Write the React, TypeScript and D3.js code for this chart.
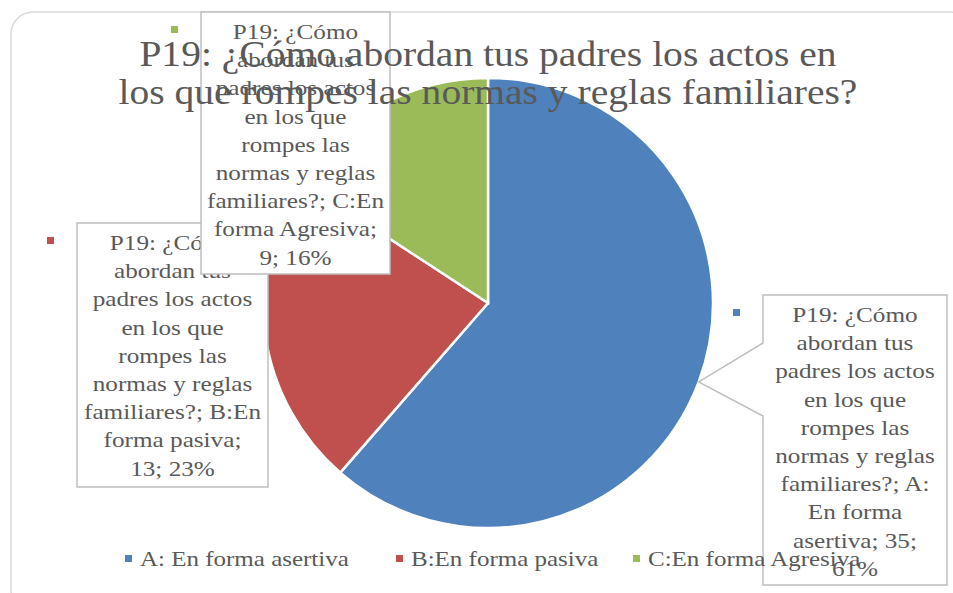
import React, { useEffect, useRef } from 'react';
import * as d3 from 'd3';

const categories = ['A: En forma asertiva', 'B:En forma pasiva', 'C:En forma Agresiva'];
const values = [35, 13, 9];
const colors = ['#4f81bd', '#c0504d', '#9bbb59'];
const titleLines = ['P19: ¿Cómo abordan tus padres los actos en', 'los que rompes las normas y reglas familiares?'];
const labelLines = [
  ['P19: ¿Cómo', 'abordan tus', 'padres los actos', 'en los que', 'rompes las', 'normas y reglas', 'familiares?; A:', 'En forma', 'asertiva; 35;', '61%'],
  ['P19: ¿Cómo', 'abordan tus', 'padres los actos', 'en los que', 'rompes las', 'normas y reglas', 'familiares?; B:En', 'forma pasiva;', '13; 23%'],
  ['P19: ¿Cómo', 'abordan tus', 'padres los actos', 'en los que', 'rompes las', 'normas y reglas', 'familiares?; C:En', 'forma Agresiva;', '9; 16%'],
];

const W = 953;
const H = 593;
const FONT = '"Liberation Serif", "DejaVu Serif", serif';
const TEXT = '#595959';

// manual label placement, like the original callouts
const boxes = [
  { x: 763, y: 295, w: 184, h: 290, pointer: true },
  { x: 77, y: 223, w: 191, h: 264, pointer: false },
  { x: 201, y: 12, w: 189, h: 262, pointer: false },
];

// widen the Times-like font towards the original's Cambria proportions
const stretch = (ax: number, f: number) => `translate(${ax},0) scale(${f},1) translate(${-ax},0)`;

const App: React.FC = () => {
  const svgRef = useRef<SVGSVGElement>(null);

  useEffect(() => {
    document.body.style.margin = '0';
    const svg = d3.select(svgRef.current);
    svg.selectAll('*').remove();

    // chart area border
    svg.append('rect')
      .attr('x', 11).attr('y', 12)
      .attr('width', 960).attr('height', 600)
      .attr('rx', 22)
      .attr('fill', 'white')
      .attr('stroke', '#d9d9d9')
      .attr('stroke-width', 1.5);

    const cx = 488, cy = 303, r = 225;
    const pie = d3.pie<number>().sort(null).value(d => d);
    const arcs = pie(values);
    const arc = d3.arc<d3.PieArcDatum<number>>().innerRadius(0).outerRadius(r);
    const edge = d3.arc<d3.PieArcDatum<number>>().innerRadius(r).outerRadius(r);

    const g = svg.append('g').attr('transform', `translate(${cx},${cy})`);
    g.selectAll('path')
      .data(arcs)
      .enter()
      .append('path')
      .attr('d', arc)
      .attr('fill', (_, i) => colors[i])
      .attr('stroke', 'white')
      .attr('stroke-width', 2.5);

    // data labels (B first, then C over it, then A)
    [1, 2, 0].forEach(i => {
      const b = boxes[i];
      const lg = svg.append('g');
      if (b.pointer) {
        const [tx, ty] = edge.centroid(arcs[i]);
        const tip = [cx + tx, cy + ty];
        const p = d3.path();
        p.moveTo(b.x, b.y);
        p.lineTo(b.x + b.w, b.y);
        p.lineTo(b.x + b.w, b.y + b.h);
        p.lineTo(b.x, b.y + b.h);
        p.lineTo(b.x, b.y + 121);
        p.lineTo(tip[0], tip[1]);
        p.lineTo(b.x, b.y + 48);
        p.closePath();
        lg.append('path')
          .attr('d', p.toString())
          .attr('fill', 'white')
          .attr('stroke', '#bfbfbf')
          .attr('stroke-width', 1.5);
      } else {
        lg.append('rect')
          .attr('x', b.x).attr('y', b.y)
          .attr('width', b.w).attr('height', b.h)
          .attr('fill', 'white')
          .attr('stroke', '#bfbfbf')
          .attr('stroke-width', 1.5);
      }
      const mid = b.x + b.w / 2;
      lg.append('text')
        .attr('font-family', FONT)
        .attr('font-size', 21)
        .attr('fill', TEXT)
        .attr('text-anchor', 'middle')
        .attr('transform', stretch(mid, 1.2))
        .selectAll('tspan')
        .data(labelLines[i])
        .enter()
        .append('tspan')
        .attr('x', mid)
        .attr('y', (_, k) => b.y + 27 + k * 28.2)
        .text(d => d);
      // legend key next to label
      lg.append('rect')
        .attr('x', b.x - 30).attr('y', b.y + 14)
        .attr('width', 7).attr('height', 7)
        .attr('fill', colors[i]);
    });

    // title
    svg.append('text')
      .attr('font-family', FONT)
      .attr('font-size', 35)
      .attr('fill', TEXT)
      .attr('text-anchor', 'middle')
      .attr('transform', stretch(488, 1.13))
      .selectAll('tspan')
      .data(titleLines)
      .enter()
      .append('tspan')
      .attr('x', 488)
      .attr('y', (_, k) => 66 + k * 38)
      .text(d => d);

    // legend
    const legendX = [125, 396, 633];
    const legend = svg.append('g');
    categories.forEach((c, i) => {
      legend.append('rect')
        .attr('x', legendX[i]).attr('y', 555)
        .attr('width', 7).attr('height', 7)
        .attr('fill', colors[i]);
      legend.append('text')
        .attr('x', legendX[i] + 15)
        .attr('y', 566)
        .attr('font-family', FONT)
        .attr('font-size', 21)
        .attr('fill', TEXT)
        .attr('transform', stretch(legendX[i] + 15, 1.19))
        .text(c);
    });
  }, []);

  return <svg ref={svgRef} width={W} height={H} style={{ display: 'block' }} />;
};

export default App;
